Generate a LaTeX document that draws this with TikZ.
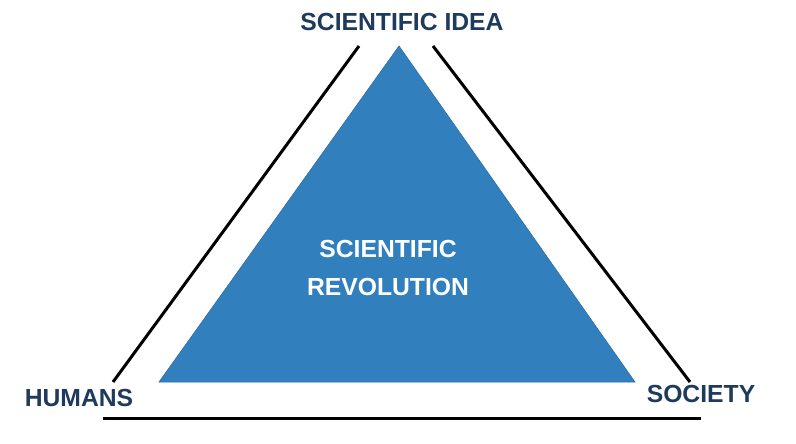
\documentclass[tikz,border=0pt]{standalone}
\usepackage{fontspec}
\setmainfont{Liberation Sans}
\usepackage{xcolor}
\usepackage{tikz}
\usetikzlibrary{calc}
\definecolor{RevBlue}{HTML}{3180BD}
\definecolor{RevEdge}{HTML}{2A6FA6}
\definecolor{RevText}{HTML}{1E3A5C}
\tikzset{
  corelabel/.style={font=\fontsize{24.7}{38}\selectfont\bfseries,text=white,align=center,inner sep=0pt},
  cornerlabel/.style={font=\fontsize{24.7}{30}\selectfont\bfseries,text=RevText,inner sep=0pt},
  side/.style={line width=3pt,draw=black},
  core/.style={fill=RevBlue,draw=RevEdge,line width=0.6pt}
}

\begin{document}
\begin{tikzpicture}[x=1pt,y=-1pt]
  \useasboundingbox (0,0) rectangle (796,444);

  % inner triangle
  \coordinate (apex) at (399,46);
  \coordinate (baseL) at (159,382);
  \coordinate (baseR) at (635,382);
  \fill[core] (apex) -- (baseL) -- (baseR) -- cycle;

  % outer sides
  \coordinate (leftTop) at (359,46);
  \coordinate (leftBot) at (113,382);
  \coordinate (rightTop) at (433,46);
  \coordinate (rightBot) at (690,382);
  \coordinate (bottomL) at (103,418);
  \coordinate (bottomR) at (701,418);
  \draw[side] (leftTop) -- (leftBot);
  \draw[side] (rightTop) -- (rightBot);
  \draw[side] (bottomL) -- (bottomR);

  \node[corelabel] (revolution) at (388,268) {SCIENTIFIC\\REVOLUTION};
  \node[cornerlabel] (idea) at (402,22) {SCIENTIFIC IDEA};
  \node[cornerlabel] (humans) at (79,398) {HUMANS};
  \node[cornerlabel] (society) at (701,394) {SOCIETY};
\end{tikzpicture}
\end{document}
